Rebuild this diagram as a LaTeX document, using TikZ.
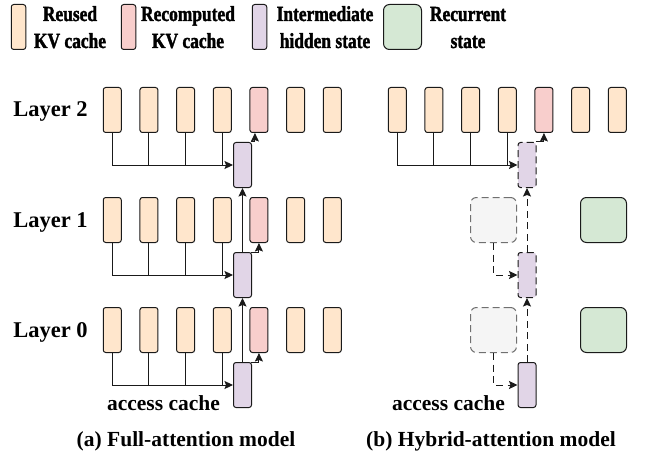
\documentclass[tikz,border=0pt]{standalone}
\usepackage{fontspec}
\setmainfont{Liberation Serif}
\newfontfamily\legendfont[FakeStretch=0.81, FakeBold=1.6]{Liberation Serif Bold}
\usetikzlibrary{arrows.meta}

\definecolor{edge}{HTML}{1A1A1A}
\definecolor{reusedfill}{HTML}{FFE6CC}
\definecolor{recompfill}{HTML}{F8CECC}
\definecolor{hiddenfill}{HTML}{E1D5E7}
\definecolor{recurfill}{HTML}{D5E8D4}
\definecolor{ghostfill}{HTML}{F5F5F5}
\definecolor{ghostedge}{HTML}{707070}

\begin{document}
\begin{tikzpicture}[x=1pt,y=-1pt,
  cell/.style={draw=edge, line width=1pt, rounded corners=2.5pt, inner sep=0pt,
               minimum width=18pt, minimum height=45pt},
  reused/.style={cell, fill=reusedfill},
  recomp/.style={cell, fill=recompfill},
  hidden/.style={cell, fill=hiddenfill},
  dashcell/.style={dash pattern=on 7pt off 4pt},
  recur/.style={cell, fill=recurfill, minimum width=46pt, rounded corners=6pt},
  ghost/.style={cell, fill=ghostfill, draw=ghostedge, dashcell, minimum width=46pt, rounded corners=6pt},
  legcell/.style={cell, minimum width=14.5pt},
  link/.style={line width=1pt, draw=edge},
  tip/.style={link, -{Stealth[length=8.5pt,width=8pt,inset=1.5pt]}},
  dlink/.style={tip, dash pattern=on 7pt off 4.5pt},
  legtext/.style={font=\legendfont\fontsize{21.5}{27}\selectfont, inner sep=0pt, anchor=base},
  label/.style={font=\fontsize{21.5}{26}\selectfont\bfseries, inner sep=0pt, anchor=base},
  layertext/.style={font=\fontsize{22.5}{26}\selectfont\bfseries, inner sep=0pt, anchor=base},
]
\useasboundingbox (0,0) rectangle (652,457);

% ---------- legend ----------
\node[legcell, fill=reusedfill] (lg1) at (18.5,27) {};
\node[legtext] (lt1a) at (70,21) {Reused};
\node[legtext] (lt1b) at (70,48) {KV cache};
\node[legcell, fill=recompfill] (lg2) at (128.5,27) {};
\node[legtext] (lt2a) at (188,21) {Recomputed};
\node[legtext] (lt2b) at (188,48) {KV cache};
\node[legcell, fill=hiddenfill] (lg3) at (259.5,27) {};
\node[legtext] (lt3a) at (325,21) {Intermediate};
\node[legtext] (lt3b) at (325,48) {hidden state};
\node[legcell, fill=recurfill, minimum width=38pt, rounded corners=6pt] (lg4) at (402.5,27) {};
\node[legtext] (lt4a) at (468,21) {Recurrent};
\node[legtext] (lt4b) at (468,48) {state};

% ---------- layer labels ----------
\node[layertext] (l2) at (50.5,117) {Layer 2};
\node[layertext] (l1) at (50.5,227) {Layer 1};
\node[layertext] (l0) at (50.5,337) {Layer 0};

% ---------- (a) full-attention model ----------
\foreach \r in {0,1,2}{
  \foreach \i in {0,...,6}{
    \ifnum\i=4
      \node[recomp] (f\r\i) at ({112.25+36.67*\i},{110+110*\r}) {};
    \else
      \node[reused] (f\r\i) at ({112.25+36.67*\i},{110+110*\r}) {};
    \fi
  }
  \node[hidden] (fh\r) at (242.5,{165+110*\r}) {};
  \draw[tip] (f\r0.south) |- (fh\r.west);
  \foreach \i in {1,2,3}{
    \draw[link] (f\r\i.south) -- (f\r\i.south |- fh\r.west);
  }
}
\draw[tip] ([xshift=-1pt]fh0.north east) -| ([xshift=-4pt]f04.south);
\draw[tip] ([xshift=-1pt]fh1.north east) -| (f14.south);
\draw[tip] ([xshift=-1pt]fh2.north east) -| (f24.south);
\draw[tip] (fh1.north) -- (fh0.south);
\draw[tip] (fh2.north) -- (fh1.south);

% ---------- (b) hybrid-attention model ----------
\foreach \i in {0,...,6}{
  \ifnum\i=4
    \node[recomp] (h0\i) at ({397.25+36.67*\i},110) {};
  \else
    \node[reused] (h0\i) at ({397.25+36.67*\i},110) {};
  \fi
}
\node[hidden, dashcell] (hh0) at (527,165) {};
\node[hidden, dashcell] (hh1) at (527,275) {};
\node[hidden] (hh2) at (527,385) {};
\draw[tip] (h00.south) |- (hh0.west);
\foreach \i in {1,2,3}{
  \draw[link] (h0\i.south) -- (h0\i.south |- hh0.west);
}
\draw[tip] ([xshift=-1pt]hh0.north east) -| (h04.south);

\node[ghost] (g1) at (493.5,220) {};
\node[ghost] (g2) at (493.5,330) {};
\node[recur] (q1) at (603.5,220) {};
\node[recur] (q2) at (603.5,330) {};
\draw[dlink] (g1.south) |- (hh1.west);
\draw[dlink] (g2.south) |- (hh2.west);
\draw[dlink] (hh1.north) -- (hh0.south);
\draw[dlink] (hh2.north) -- (hh1.south);

% ---------- captions ----------
\node[label] (ac1) at (163.5,410) {access cache};
\node[label] (ac2) at (448.5,410) {access cache};
\node[label] (cap1) at (186,446) {(a) Full-attention model};
\node[label] (cap2) at (491,446) {(b) Hybrid-attention model};
\end{tikzpicture}
\end{document}
